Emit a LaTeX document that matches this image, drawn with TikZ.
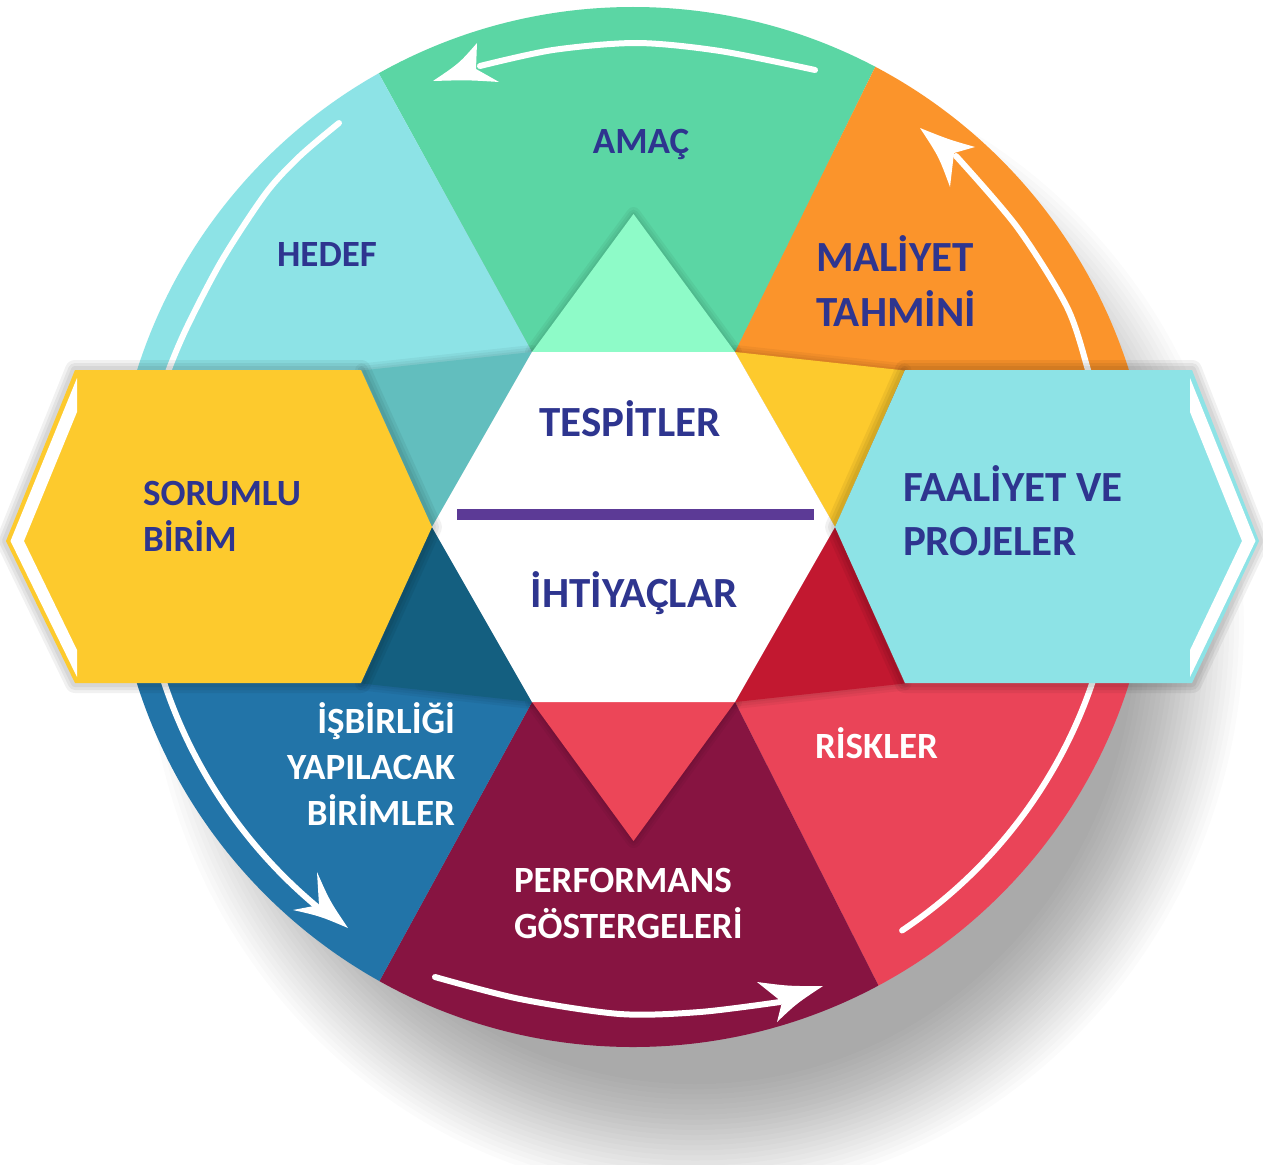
\documentclass[tikz,border=0pt]{standalone}
\usepackage{fontspec}
\setmainfont{Carlito}
\usetikzlibrary{calc}
\definecolor{navy}{RGB}{46,53,143}
\definecolor{amac}{RGB}{91,214,164}
\definecolor{amacpt}{RGB}{142,251,200}
\definecolor{hedef}{RGB}{141,227,230}
\definecolor{hedefpt}{RGB}{98,190,190}
\definecolor{maliyet}{RGB}{251,148,43}
\definecolor{yellowc}{RGB}{253,202,45}
\definecolor{riskler}{RGB}{234,68,88}
\definecolor{risklerpt}{RGB}{194,24,48}
\definecolor{perf}{RGB}{135,20,65}
\definecolor{perfpt}{RGB}{236,70,88}
\definecolor{isb}{RGB}{34,116,168}
\definecolor{isbpt}{RGB}{20,95,128}
\definecolor{barpurple}{RGB}{92,58,150}
\begin{document}
\begin{tikzpicture}[x=1pt,y=-1pt,
  txtsmall/.style={font=\fontsize{37}{46}\selectfont\bfseries, inner sep=0pt, outer sep=0pt},
  txtbig/.style={font=\fontsize{43}{54}\selectfont\bfseries, inner sep=0pt, outer sep=0pt},
  navytxt/.style={text=navy},
  whitetxt/.style={text=white},
  arcline/.style={draw=white, line width=6pt, line cap=round},
  tipfill/.style={fill=white, draw=none},
  ptshadow/.style={draw=black, opacity=0.045, line join=round, shift={(2,3)}},
  hexshadow/.style={draw=black, opacity=0.055, line join=round, shift={(4,9)}}
]
\useasboundingbox (0,0) rectangle (1263,1164);
\fill[white] (0,0) rectangle (1263,1164);

% ---------- key points ----------
\coordinate (C) at (633,527);
\coordinate (H1) at (532,352);
\coordinate (H2) at (735,352);
\coordinate (H3) at (835,527);
\coordinate (H4) at (735,702);
\coordinate (H5) at (532,702);
\coordinate (H6) at (432,527);
\coordinate (PT) at (633.5,214);
\coordinate (PUR) at (904.5,370.5);
\coordinate (PLR) at (904.5,683.5);
\coordinate (PB) at (633.5,841);
\coordinate (PLL) at (362,683.5);
\coordinate (PUL) at (362,370.5);
\coordinate (E1) at (301,-68);
\coordinate (E2) at (945,-75);
\coordinate (E3) at (1300,527);
\coordinate (E4) at (950,1127);
\coordinate (E5) at (304,1119);
\coordinate (E6) at (-50,527);

% ---------- shadow of the disc ----------
\foreach \r in {450,455,...,560} { \fill[black, opacity=0.014] (695,625) ellipse[x radius=0.98*\r, y radius=1.02*\r]; }

% ---------- disc sectors ----------
\begin{scope}
\clip (C) circle[radius=520];
\fill[amac] (H1) -- (E1) -- (301,-150) -- (945,-150) -- (E2) -- (H2) -- cycle;
\fill[maliyet] (H2) -- (E2) -- (945,-150) -- (1300,-150) -- (E3) -- (H3) -- cycle;
\fill[riskler] (H3) -- (E3) -- (1300,1250) -- (950,1250) -- (E4) -- (H4) -- cycle;
\fill[perf] (H4) -- (E4) -- (950,1250) -- (304,1250) -- (E5) -- (H5) -- cycle;
\fill[isb] (H5) -- (E5) -- (304,1250) -- (-50,1250) -- (E6) -- (H6) -- cycle;
\fill[hedef] (H6) -- (E6) -- (-50,-150) -- (301,-150) -- (E1) -- (H1) -- cycle;
% star points with soft shadows
\foreach \w in {14pt,9pt,4pt} {
  \draw[ptshadow, line width=\w] (H1) -- (PT) -- (H2) -- cycle;
  \draw[ptshadow, line width=\w] (H2) -- (PUR) -- (H3) -- cycle;
  \draw[ptshadow, line width=\w] (H3) -- (PLR) -- (H4) -- cycle;
  \draw[ptshadow, line width=\w] (H4) -- (PB) -- (H5) -- cycle;
  \draw[ptshadow, line width=\w] (H5) -- (PLL) -- (H6) -- cycle;
  \draw[ptshadow, line width=\w] (H6) -- (PUL) -- (H1) -- cycle;
}
\fill[amacpt] (H1) -- (PT) -- (H2) -- cycle;
\fill[yellowc] (H2) -- (PUR) -- (H3) -- cycle;
\fill[risklerpt] (H3) -- (PLR) -- (H4) -- cycle;
\fill[perfpt] (H4) -- (PB) -- (H5) -- cycle;
\fill[isbpt] (H5) -- (PLL) -- (H6) -- cycle;
\fill[hedefpt] (H6) -- (PUL) -- (H1) -- cycle;
\fill[white] (H1) -- (H2) -- (H3) -- (H4) -- (H5) -- (H6) -- cycle;
\end{scope}

% ---------- white cycle arrows ----------
\draw[arcline] plot[smooth] coordinates {(815,70) (720,51) (637,43) (553,50) (480,66)};
\coordinate (a1t) at (433,81); \coordinate (a1b) at (477,43); \coordinate (a1n) at (476,69); \coordinate (a1c) at (499,82);
\fill[tipfill] (a1t) .. controls ($(a1t)!0.5!(a1b)!0.2!(a1n)$) .. (a1b) -- (a1n) -- (a1c) .. controls ($(a1c)!0.5!(a1t)!0.12!(a1n)$) .. (a1t) -- cycle;

\draw[arcline] plot[smooth] coordinates {(1093,392) (1088,370) (1067,307) (1017,227) (956,156)};
\coordinate (a2t) at (920,128); \coordinate (a2b) at (950,187); \coordinate (a2n) at (954,153); \coordinate (a2c) at (975,147);
\fill[tipfill] (a2t) .. controls ($(a2t)!0.5!(a2b)!0.2!(a2n)$) .. (a2b) -- (a2n) -- (a2c) .. controls ($(a2c)!0.5!(a2t)!0.12!(a2n)$) .. (a2t) -- cycle;

\draw[arcline] (C) ++(16:485) arc[start angle=16, end angle=56.3, radius=485];

\draw[arcline] plot[smooth] coordinates {(435,977) (520,999) (620,1014) (700,1012) (780,1002)};
\coordinate (a3t) at (823,986); \coordinate (a3b) at (777,1022); \coordinate (a3n) at (782,1002); \coordinate (a3c) at (757,982);
\fill[tipfill] (a3t) .. controls ($(a3t)!0.5!(a3b)!0.2!(a3n)$) .. (a3b) -- (a3n) -- (a3c) .. controls ($(a3c)!0.5!(a3t)!0.12!(a3n)$) .. (a3t) -- cycle;

\draw[arcline] (C) ++(164:494) arc[start angle=164, end angle=129.8, radius=494];
\coordinate (a4t) at (348,928); \coordinate (a4b) at (317,872); \coordinate (a4n) at (319,905); \coordinate (a4c) at (293,910);
\fill[tipfill] (a4t) .. controls ($(a4t)!0.5!(a4b)!0.2!(a4n)$) .. (a4b) -- (a4n) -- (a4c) .. controls ($(a4c)!0.5!(a4t)!0.2!(a4n)$) .. (a4t) -- cycle;

\draw[arcline] plot[smooth] coordinates {(339,123) (300,156) (266,193) (222,260) (187,327) (168,372) (165,390)};

% ---------- side hexagons ----------
\coordinate (Y1) at (75,370); \coordinate (Y2) at (361,370); \coordinate (Y3) at (432,527);
\coordinate (Y4) at (361,683); \coordinate (Y5) at (75,683); \coordinate (Y6) at (6,541);
\coordinate (K1) at (905,370); \coordinate (K2) at (1192,370); \coordinate (K3) at (1259,541);
\coordinate (K4) at (1192,683); \coordinate (K5) at (905,683); \coordinate (K6) at (835,527);
\foreach \w in {20pt,14pt,8pt} {
  \draw[hexshadow, line width=\w] (Y1) -- (Y2) -- (Y3) -- (Y4) -- (Y5) -- (Y6) -- cycle;
  \draw[hexshadow, line width=\w] (K1) -- (K2) -- (K3) -- (K4) -- (K5) -- (K6) -- cycle;
}
\fill[yellowc] (Y1) -- (Y2) -- (Y3) -- (Y4) -- (Y5) -- (Y6) -- cycle;
\fill[white] (77,378) -- (10.5,541) -- (77,677) -- (77,650) -- (24,541) -- (77,412) -- cycle;
\fill[hedef] (K1) -- (K2) -- (K3) -- (K4) -- (K5) -- (K6) -- cycle;
\fill[white] (1190,378) -- (1255.5,541) -- (1190,677) -- (1190,650) -- (1242,541) -- (1190,412) -- cycle;

% ---------- divider ----------
\coordinate (barL) at (457,514); \coordinate (barR) at (814,514);
\draw[barpurple, line width=11pt] (barL) -- (barR);

% ---------- labels ----------
\node[txtsmall, navytxt, anchor=base] (amac) at (641,153) {AMAÇ};
\node[txtsmall, navytxt, anchor=base] (hedef) at (327,266) {HEDEF};
\node[txtbig, navytxt, anchor=base west] (maliyet1) at (816,271) {MALİYET};
\node[txtbig, navytxt, anchor=base west] (maliyet2) at (816,326) {TAHMİNİ};
\node[txtbig, navytxt, anchor=base] (tespit) at (630,436) {TESPİTLER};
\node[txtbig, navytxt, anchor=base] (ihtiyac) at (634,607) {İHTİYAÇLAR};
\node[txtsmall, navytxt, anchor=base west] (sorumlu1) at (143,505) {SORUMLU};
\node[txtsmall, navytxt, anchor=base west] (sorumlu2) at (143,551) {BİRİM};
\node[txtbig, navytxt, anchor=base west] (faal1) at (903,501) {FAALİYET VE};
\node[txtbig, navytxt, anchor=base west] (faal2) at (903,555) {PROJELER};
\node[txtsmall, whitetxt, anchor=base east] (isb1) at (455,733) {İŞBİRLİĞİ};
\node[txtsmall, whitetxt, anchor=base east] (isb2) at (455,779) {YAPILACAK};
\node[txtsmall, whitetxt, anchor=base east] (isb3) at (455,825) {BİRİMLER};
\node[txtsmall, whitetxt, anchor=base west] (risk) at (815,758) {RİSKLER};
\node[txtsmall, whitetxt, anchor=base west] (perf1) at (514,892) {PERFORMANS};
\node[txtsmall, whitetxt, anchor=base west] (perf2) at (514,938) {GÖSTERGELERİ};
\end{tikzpicture}
\end{document}
